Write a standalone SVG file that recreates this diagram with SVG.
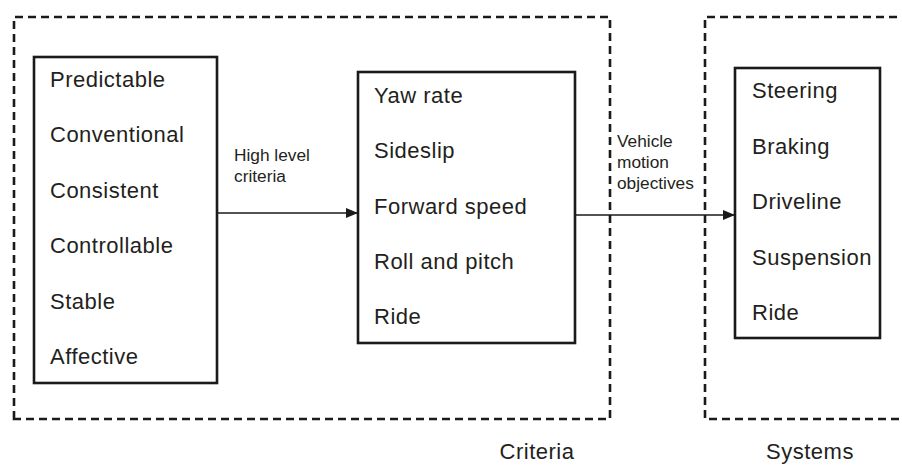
<svg xmlns="http://www.w3.org/2000/svg" width="902" height="465" viewBox="0 0 902 465">
<style>
.dash{fill:none;stroke:#1a1a1a;stroke-width:2.6;stroke-dasharray:8 5}
.box{fill:#fff;stroke:#1a1a1a;stroke-width:2.6}
.t{font-family:"Liberation Sans",Arial,sans-serif;font-size:22px;letter-spacing:0.5px;fill:#231f20}
.s{font-family:"Liberation Sans",Arial,sans-serif;font-size:17.3px;fill:#231f20}
.c{stroke:#1a1a1a;stroke-width:1.5;fill:none}
</style>
<defs>
<marker id="ah" markerWidth="12" markerHeight="10" refX="12" refY="5" orient="auto" markerUnits="userSpaceOnUse">
<path d="M0,0 L12,5 L0,10 Z" fill="#1a1a1a"/>
</marker>
</defs>
<g id="criteria-group">
<path class="dash" d="M14,419 V17 H610 V419 Z"/>
<text class="t" x="537" y="459" text-anchor="middle">Criteria</text>
</g>
<g id="systems-group">
<path class="dash" d="M910,17 H705 V419 H910"/>
<text class="t" x="810" y="459" text-anchor="middle">Systems</text>
</g>
<g id="connectors">
<line class="c" x1="217" y1="213" x2="358" y2="213" marker-end="url(#ah)"/>
<line class="c" x1="575" y1="215" x2="735" y2="215" marker-end="url(#ah)"/>
<text class="s" x="234" y="161">High level</text>
<text class="s" x="234" y="182">criteria</text>
<text class="s" x="617" y="147">Vehicle</text>
<text class="s" x="617" y="168">motion</text>
<text class="s" x="617" y="189">objectives</text>
</g>
<g id="high-level">
<rect class="box" x="34" y="57" width="183" height="326"/>
<text class="t" x="50" y="87">Predictable</text>
<text class="t" x="50" y="142">Conventional</text>
<text class="t" x="50" y="198">Consistent</text>
<text class="t" x="50" y="253">Controllable</text>
<text class="t" x="50" y="309">Stable</text>
<text class="t" x="50" y="364">Affective</text>
</g>
<g id="motion">
<rect class="box" x="358" y="72" width="217" height="271"/>
<text class="t" x="374" y="103">Yaw rate</text>
<text class="t" x="374" y="158">Sideslip</text>
<text class="t" x="374" y="214">Forward speed</text>
<text class="t" x="374" y="269">Roll and pitch</text>
<text class="t" x="374" y="324">Ride</text>
</g>
<g id="systems">
<rect class="box" x="735" y="68" width="145" height="270"/>
<text class="t" x="752" y="98">Steering</text>
<text class="t" x="752" y="154">Braking</text>
<text class="t" x="752" y="209">Driveline</text>
<text class="t" x="752" y="265">Suspension</text>
<text class="t" x="752" y="320">Ride</text>
</g>
</svg>
